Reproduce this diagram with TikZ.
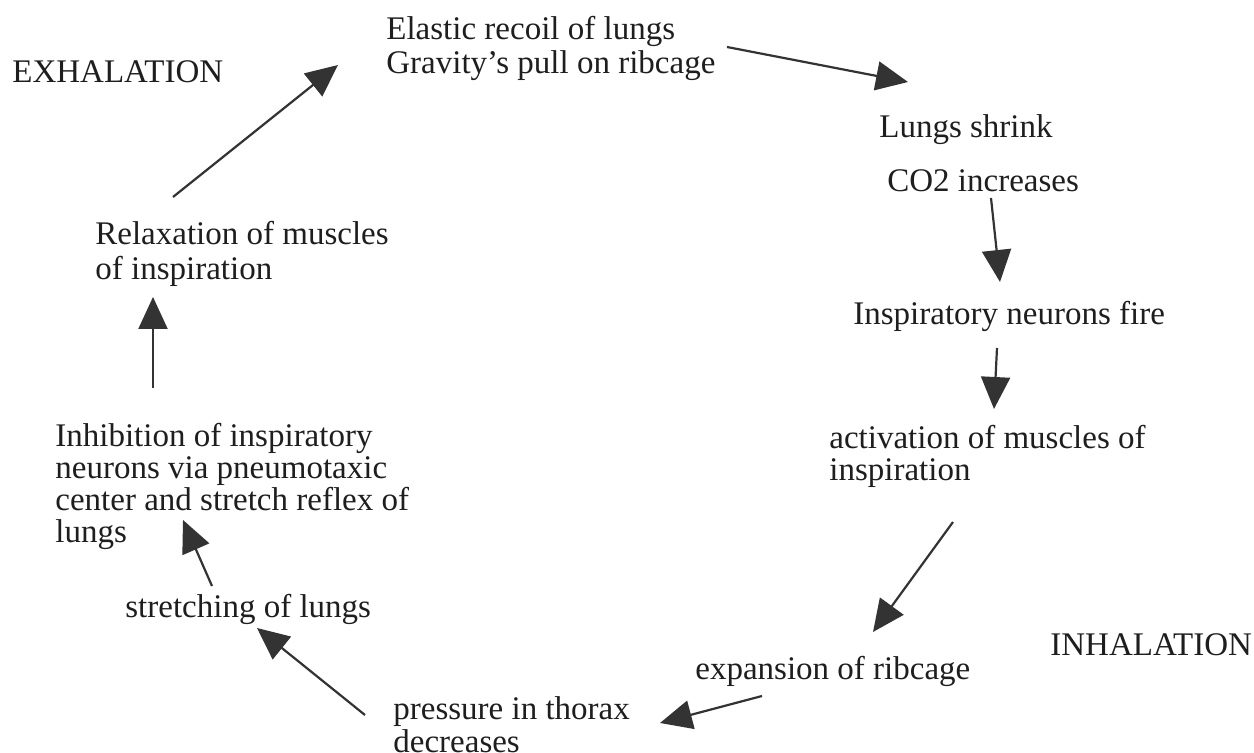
\documentclass[tikz,border=0pt]{standalone}
\usepackage{fontspec}
\setmainfont{Liberation Serif}
\usetikzlibrary{arrows.meta}
\definecolor{txt}{HTML}{1E1E1E}
\definecolor{arrc}{HTML}{333333}
\tikzset{
  lbl/.style={anchor=north west, inner sep=0pt, align=left, text=txt,
    font=\fontsize{16.5}{16}\selectfont},
  word/.style={anchor=base west, inner sep=0pt, text=txt,
    font=\fontsize{16.5}{16}\selectfont},
  arr/.style={draw=arrc, line width=1.1pt,
    -{Triangle[length=16pt,width=14.5pt]}, arrc}
}
\begin{document}
\begin{tikzpicture}[x=0.5pt,y=-0.5pt]
\fill[white] (0,0) rectangle (1254,753);
\useasboundingbox (0,0) rectangle (1254,753);

\node[word] (exh) at (12,83) {EXHALATION};
\node[word] (inh) at (1050,655) {INHALATION};

\node[lbl] (elastic) at (386,15.6) {\strut Elastic recoil of lungs\\Gravity's pull on ribcage};
\node[lbl] (lungs) at (879,114.6) {\strut Lungs shrink};
\node[lbl] (co2) at (887,168.6) {\strut CO2 increases};
\node[lbl] (insp) at (853,300.6) {\strut Inspiratory neurons fire};
\node[lbl] (act) at (829,424.6) {\strut activation of muscles of\\inspiration};
\node[lbl] (expn) at (695,655.6) {\strut expansion of ribcage};
\node[lbl, font=\fontsize{16.5}{13}\selectfont] (press) at (393,696.6) {\strut pressure in thorax\\decreases};
\node[lbl] (stretch) at (125,593.6) {\strut stretching of lungs};
\node[lbl] (inhib) at (55,422.6) {\strut Inhibition of inspiratory\\neurons via pneumotaxic\\center and stretch reflex of\\lungs};
\node[lbl] (relax) at (95,220.6) {\strut Relaxation of muscles\\of inspiration};

\draw[arr] ([shift={(341,31.4)}]elastic.north west) -- ([shift={(29,-32.6)}]lungs.north west);
\draw[arr] ([shift={(104,29.4)}]co2.north west) -- ([shift={(147,-18.6)}]insp.north west);
\draw[arr] ([shift={(144,47.4)}]insp.north west) -- ([shift={(165,-15.6)}]act.north west);
\draw[arr] ([shift={(124,97.4)}]act.north west) -- ([shift={(178,-23.6)}]expn.north west);
\draw[arr] ([shift={(67,40.4)}]expn.north west) -- ([shift={(267,26.4)}]press.north west);
\draw[arr] ([shift={(-28,18.4)}]press.north west) -- ([shift={(132,34.4)}]stretch.north west);
\draw[arr] ([shift={(87,-7.6)}]stretch.north west) -- ([shift={(128,97.4)}]inhib.north west);
\draw[arr] ([shift={(98,-34.6)}]inhib.north west) -- ([shift={(58,76.4)}]relax.north west);
\draw[arr] ([shift={(78,-23.6)}]relax.north west) -- ([shift={(-48,49.4)}]elastic.north west);
\end{tikzpicture}
\end{document}
